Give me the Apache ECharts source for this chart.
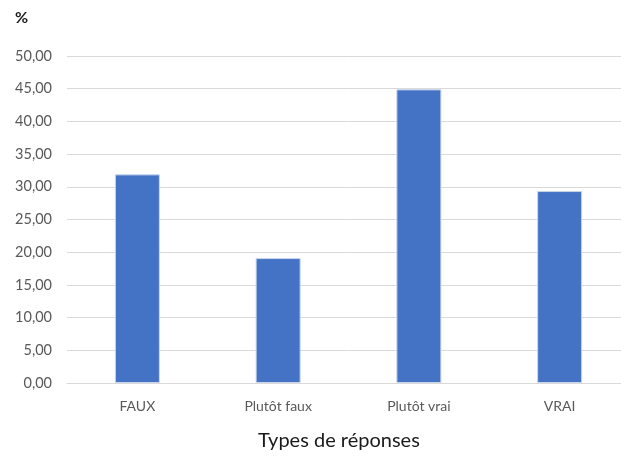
<!DOCTYPE html>
<html>
<head>
<meta charset="utf-8">
<script src="https://cdn.jsdelivr.net/npm/echarts@6/dist/echarts.min.js"></script>
<style>
html,body{margin:0;padding:0;background:#fff;overflow:hidden;width:621px;height:461px;}
#c{width:630px;height:461px;}
</style>
</head>
<body>
<div id="c"></div>
<script>
var categories = ['FAUX', 'Plutôt faux', 'Plutôt vrai', 'VRAI'];
var values = [31.9, 19.1, 44.9, 29.35];
var yMin = 0, yMax = 50, yStep = 5;

var chart = echarts.init(document.getElementById('c'), null, {renderer: 'canvas'});
var font = 'Lato, "Open Sans", sans-serif';
chart.setOption({
  animation: false,
  backgroundColor: '#ffffff',
  grid: {left: 67, right: 0, top: 56, bottom: 78, containLabel: false},
  graphic: [
    {type: 'text', left: 15, top: 10, style: {text: '%', font: 'bold 16px ' + font, fill: '#1a1a1a'}},
    {type: 'text', left: 258, top: 431, style: {text: 'Types de réponses', font: '20px ' + font, fill: '#1a1a1a'}}
  ],
  xAxis: {
    type: 'category',
    data: categories,
    axisLine: {show: true, lineStyle: {color: '#d9d9d9', width: 1}},
    axisTick: {show: false},
    axisLabel: {color: '#595959', fontSize: 14, fontFamily: font, margin: 16}
  },
  yAxis: {
    type: 'value',
    min: yMin, max: yMax, interval: yStep,
    axisLine: {show: false},
    axisTick: {show: false},
    splitLine: {lineStyle: {color: '#d9d9d9', width: 1}},
    axisLabel: {
      color: '#595959', fontSize: 14.5, fontFamily: font, margin: 15,
      formatter: function (v) { return v.toFixed(2).replace('.', ','); }
    }
  },
  series: [{
    type: 'bar',
    data: values,
    barWidth: 45,
    itemStyle: {color: '#4472C4', borderColor: '#c9d6ee', borderWidth: 1}
  }]
});
</script>
</body>
</html>
